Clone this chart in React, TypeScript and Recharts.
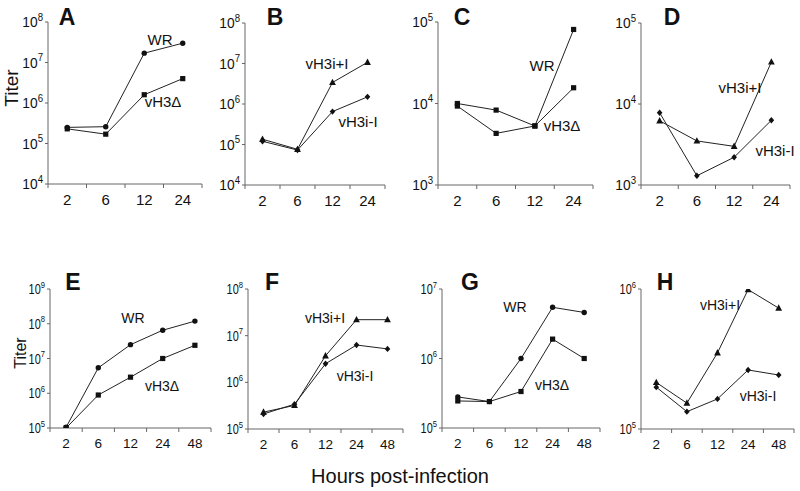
import React from 'react'
import { LineChart, Line, XAxis, YAxis } from 'recharts'

const hours4 = ['2', '6', '12', '24']
const hours5 = ['2', '6', '12', '24', '48']

// top row
const aWR = [2.5e5, 2.6e5, 1.7e7, 3.0e7]
const aDel = [2.3e5, 1.7e5, 1.6e6, 4.0e6]
const bPlus = [1.35e5, 7.6e4, 3.4e6, 1.07e7]
const bMinus = [1.2e5, 7.3e4, 6.5e5, 1.5e6]
const cWR = [1.0e4, 8.3e3, 5.3e3, 8.1e4]
const cDel = [9.3e3, 4.3e3, 5.3e3, 1.56e4]
const dPlus = [6.2e3, 3.5e3, 3.0e3, 3.3e4]
const dMinus = [7.8e3, 1.3e3, 2.2e3, 6.3e3]

// bottom row
const eWR = [1.05e5, 5.4e6, 2.5e7, 6.5e7, 1.19e8]
const eDel = [1.0e5, 8.9e5, 2.9e6, 1.0e7, 2.4e7]
const fPlus = [2.3e5, 3.2e5, 3.7e6, 2.2e7, 2.2e7]
const fMinus = [2.1e5, 3.4e5, 2.5e6, 6.3e6, 5.2e6]
const gWR = [2.8e5, 2.4e5, 1.0e6, 5.45e6, 4.6e6]
const gDel = [2.45e5, 2.4e5, 3.35e5, 1.9e6, 1.0e6]
const hPlus = [2.15e5, 1.53e5, 3.5e5, 9.9e5, 7.3e5]
const hMinus = [1.99e5, 1.33e5, 1.64e5, 2.64e5, 2.43e5]

const ticksA = [1e4, 1e5, 1e6, 1e7, 1e8]
const ticksC = [1e3, 1e4, 1e5]
const ticksE = [1e5, 1e6, 1e7, 1e8, 1e9]
const ticksF = [1e5, 1e6, 1e7, 1e8]
const ticksG = [1e5, 1e6, 1e7]
const ticksH = [1e5, 1e6]

const FONT = '"Liberation Sans", Arial, Helvetica, sans-serif'
const INK = '#111'
const AXIS = '#666'

type Mark = 'circle' | 'square' | 'triangle' | 'diamond'

const marker = (kind: Mark) => (p: any) => {
  const { cx, cy, index } = p
  if (cx == null || cy == null) return <g key={index} />
  if (kind === 'circle') return <circle key={index} cx={cx} cy={cy} r={2.7} fill={INK} />
  if (kind === 'square') return <rect key={index} x={cx - 2.6} y={cy - 2.6} width={5.2} height={5.2} fill={INK} />
  if (kind === 'triangle')
    return <polygon key={index} points={`${cx},${cy - 3.8} ${cx - 3.4},${cy + 2.6} ${cx + 3.4},${cy + 2.6}`} fill={INK} />
  return <polygon key={index} points={`${cx},${cy - 3.2} ${cx - 2.8},${cy} ${cx},${cy + 3.2} ${cx + 2.8},${cy}`} fill={INK} />
}

// y labels are drawn a little narrower, like the squeezed type of the original
function PowTick({ x, y, payload, fs, sx }: any) {
  const e = Math.round(Math.log10(payload.value))
  return (
    <g transform={`translate(${x},${y}) scale(${sx},1)`}>
      <text x={0} y={0} dy="0.36em" textAnchor="end" fontSize={fs} fill={INK} fontFamily={FONT}>
        10
        <tspan dy={-fs * 0.45} fontSize={fs * 0.7}>
          {e}
        </tspan>
      </text>
    </g>
  )
}

function HourTick({ x, y, payload, fs, half, last }: any) {
  return (
    <g>
      <line x1={x - half} x2={x - half} y1={y} y2={y + 4} stroke={AXIS} />
      {payload.index === last && <line x1={x + half} x2={x + half} y1={y} y2={y + 4} stroke={AXIS} />}
      <text x={x} y={y + 10} dy="0.71em" textAnchor="middle" fontSize={fs} fill={INK} fontFamily={FONT}>
        {payload.value}
      </text>
    </g>
  )
}

type Panel = {
  id: string
  hours: string[]
  s0: number[]
  s1: number[]
  m0: Mark
  m1: Mark
  ticks: number[]
  box: [number, number, number, number] // plot left, right, top, bottom
  fx: number
  fy: number
  sx: number
}

const panels: Panel[] = [
  { id: 'A', hours: hours4, s0: aWR, s1: aDel, m0: 'circle', m1: 'square', ticks: ticksA, box: [48, 202, 22, 184], fx: 15, fy: 14.5, sx: 0.95 },
  { id: 'B', hours: hours4, s0: bPlus, s1: bMinus, m0: 'triangle', m1: 'diamond', ticks: ticksA, box: [245, 385, 23, 185], fx: 15, fy: 14.5, sx: 0.95 },
  { id: 'C', hours: hours4, s0: cWR, s1: cDel, m0: 'square', m1: 'square', ticks: ticksC, box: [438, 593, 22, 185], fx: 15, fy: 14.5, sx: 0.95 },
  { id: 'D', hours: hours4, s0: dPlus, s1: dMinus, m0: 'triangle', m1: 'diamond', ticks: ticksC, box: [641, 790, 23, 185], fx: 15, fy: 14.5, sx: 0.95 },
  { id: 'E', hours: hours5, s0: eWR, s1: eDel, m0: 'circle', m1: 'square', ticks: ticksE, box: [50, 211, 289, 428], fx: 13.5, fy: 14, sx: 0.78 },
  { id: 'F', hours: hours5, s0: fPlus, s1: fMinus, m0: 'triangle', m1: 'diamond', ticks: ticksF, box: [248, 403, 289, 429], fx: 13.5, fy: 14, sx: 0.78 },
  { id: 'G', hours: hours5, s0: gWR, s1: gDel, m0: 'circle', m1: 'square', ticks: ticksG, box: [442, 600, 289, 428], fx: 13.5, fy: 14, sx: 0.78 },
  { id: 'H', hours: hours5, s0: hPlus, s1: hMinus, m0: 'triangle', m1: 'diamond', ticks: ticksH, box: [641, 794, 289, 429], fx: 13.5, fy: 14, sx: 0.78 },
]

const YW = 46
const XH = 32
const MT = 16

function PanelChart({ p }: { p: Panel }) {
  const [pl, pr, pt, pb] = p.box
  const rows = p.hours.map((h, i) => ({ h, s0: p.s0[i], s1: p.s1[i] }))
  const half = (pr - pl) / p.hours.length / 2
  const w = pr - pl + YW + 6
  const h = pb - pt + MT + XH
  return (
    <div style={{ position: 'absolute', left: pl - YW, top: pt - MT }}>
      <LineChart width={w} height={h} data={rows} margin={{ top: MT, right: 6, left: 0, bottom: 0 }}>
        <XAxis
          dataKey="h"
          type="category"
          scale="band"
          height={XH}
          interval={0}
          tickLine={false}
          tickSize={0}
          tickMargin={0}
          axisLine={{ stroke: AXIS }}
          tick={(t: any) => <HourTick {...t} fs={p.fx} half={half} last={p.hours.length - 1} />}
        />
        <YAxis
          type="number"
          scale="log"
          domain={[p.ticks[0], p.ticks[p.ticks.length - 1]]}
          ticks={p.ticks}
          interval={0}
          allowDataOverflow
          width={YW}
          tickSize={3}
          tickMargin={2}
          axisLine={{ stroke: AXIS }}
          tickLine={{ stroke: AXIS }}
          tick={(t: any) => <PowTick {...t} fs={p.fy} sx={p.sx} />}
        />
        <Line dataKey="s0" stroke="#222" strokeWidth={1} dot={marker(p.m0)} activeDot={false} isAnimationActive={false} />
        <Line dataKey="s1" stroke="#222" strokeWidth={1} dot={marker(p.m1)} activeDot={false} isAnimationActive={false} />
      </LineChart>
    </div>
  )
}

const seriesLabels: [string, number, number, number][] = [
  ['WR', 160, 39, 15],
  ['vH3Δ', 163, 101, 15],
  ['vH3i+I', 327, 63, 15],
  ['vH3i-I', 358, 121, 15],
  ['WR', 542, 65, 15],
  ['vH3Δ', 562, 125, 15],
  ['vH3i+I', 740, 87, 15],
  ['vH3i-I', 775, 150, 15],
  ['WR', 133, 318, 14],
  ['vH3Δ', 162, 386, 14],
  ['vH3i+I', 325, 318, 14],
  ['vH3i-I', 355, 376, 14],
  ['WR', 515, 307, 14],
  ['vH3Δ', 552, 385, 14],
  ['vH3i+I', 720, 305, 14],
  ['vH3i-I', 758, 396, 14],
]

const letterPos: [string, number, number][] = [
  ['A', 67, 17],
  ['B', 275, 17],
  ['C', 462, 17],
  ['D', 672, 17],
  ['E', 73, 282],
  ['F', 272, 282],
  ['G', 470, 282],
  ['H', 665, 282],
]

export default function App() {
  return (
    <div style={{ position: 'absolute', left: 0, top: 0, width: 800, height: 491, background: '#fff', overflow: 'hidden' }}>
      {panels.map((p) => (
        <PanelChart key={p.id} p={p} />
      ))}
      <svg width={800} height={491} style={{ position: 'absolute', left: 0, top: 0, pointerEvents: 'none' }} fontFamily={FONT}>
        {letterPos.map(([t, x, y]) => (
          <text key={t} x={x} y={y} textAnchor="middle" dominantBaseline="central" fontSize={23} fontWeight="bold" fill={INK}>
            {t}
          </text>
        ))}
        {seriesLabels.map(([t, x, y, fs], i) => (
          <text key={i} x={x} y={y} textAnchor="middle" dominantBaseline="central" fontSize={fs} fill={INK}>
            {t}
          </text>
        ))}
        <text x={11} y={88} transform="rotate(-90 11 88)" textAnchor="middle" dominantBaseline="central" fontSize={19} fill={INK}>
          Titer
        </text>
        <text x={20} y={353} transform="rotate(-90 20 353)" textAnchor="middle" dominantBaseline="central" fontSize={16} fill={INK}>
          Titer
        </text>
        <text x={400} y={476} textAnchor="middle" dominantBaseline="central" fontSize={20} fill={INK}>
          Hours post-infection
        </text>
      </svg>
    </div>
  )
}
